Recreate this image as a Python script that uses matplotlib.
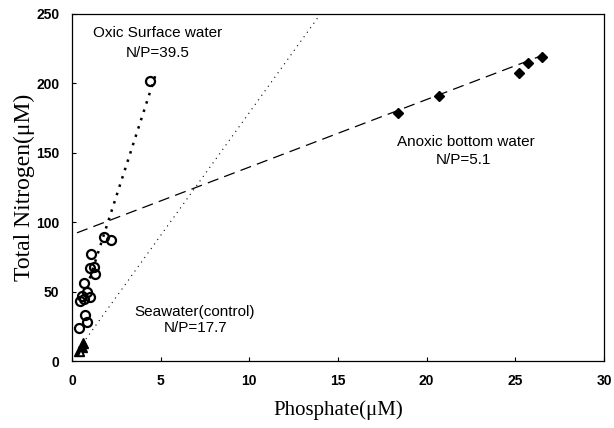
import matplotlib
matplotlib.use("Agg")
import matplotlib.pyplot as plt
import numpy as np

# Oxic surface water (open circles)
oxic_p = [0.38, 0.47, 0.56, 0.66, 0.75, 0.85, 0.85, 0.70, 1.00, 1.03, 1.09, 1.31, 1.25, 1.79, 2.22, 4.40]
oxic_n = [24, 43, 47, 56, 33, 28, 50, 45, 46, 67, 77, 63, 68, 89, 87, 202]

# Anoxic bottom water (filled diamonds)
anoxic_p = [18.4, 20.7, 25.2, 25.7, 26.5]
anoxic_n = [178.7, 190.9, 207.5, 214.7, 219.0]

# Seawater control (triangles)
sea_p_filled = [0.40, 0.55, 0.60]
sea_n_filled = [7, 10, 13]
sea_p_open = [0.50]
sea_n_open = [6]

# Regression lines: (slope, intercept, x_start, x_end)
oxic_fit = (39.5, 20.0, 1.0, 4.75)
anoxic_fit = (4.87, 91.0, 0.28, 26.5)
sea_fit = (17.7, 2.0, 0.6, 14.0)

labels_text = {
    "oxic": ("Oxic Surface water", "N/P=39.5"),
    "anoxic": ("Anoxic bottom water", "N/P=5.1"),
    "sea": ("Seawater(control)", "N/P=17.7"),
}

fig = plt.figure(figsize=(6.14, 4.28), dpi=100)
ax = fig.add_axes([0.1173, 0.1565, 0.8664, 0.8108])


def fitline(fit):
    s, b, x0, x1 = fit
    xs = np.array([x0, x1])
    return xs, s * xs + b


xs, ys = fitline(sea_fit)
ax.plot(xs, ys, color="black", lw=0.8, linestyle=(0, (1, 4)))
xs, ys = fitline(anoxic_fit)
ax.plot(xs, ys, color="black", lw=0.9, linestyle=(0, (9, 5)))
xs, ys = fitline(oxic_fit)
ax.plot(xs, ys, color="black", lw=1.8, linestyle=(0, (1, 2.5)))

ax.plot(oxic_p, oxic_n, linestyle="none", marker="o", ms=6.5, mfc="none",
        mec="black", mew=1.6)
ax.plot(anoxic_p, anoxic_n, linestyle="none", marker="D", ms=5.5,
        mfc="black", mec="black")
ax.plot(sea_p_filled, sea_n_filled, linestyle="none", marker="^", ms=7,
        mfc="black", mec="black")
ax.plot(sea_p_open, sea_n_open, linestyle="none", marker="^", ms=5,
        mfc="white", mec="black", mew=1.2)

tfont = dict(family="Liberation Sans", fontsize=11, ha="center", va="center")
ax.text(4.85, 236, labels_text["oxic"][0], **tfont)
ax.text(4.85, 222, labels_text["oxic"][1], **tfont)
ax.text(22.2, 158, labels_text["anoxic"][0], **tfont)
ax.text(22.1, 145, labels_text["anoxic"][1], **tfont)
ax.text(6.94, 35, labels_text["sea"][0], **tfont)
ax.text(6.94, 23.5, labels_text["sea"][1], **tfont)

ax.set_xlim(0, 30)
ax.set_ylim(0, 250)
ax.set_xticks([0, 5, 10, 15, 20, 25, 30])
ax.set_yticks([0, 50, 100, 150, 200, 250])
ax.tick_params(direction="in", length=3, width=0.8, pad=9)
for lab in ax.get_xticklabels() + ax.get_yticklabels():
    lab.set_fontfamily("Liberation Sans")
    lab.set_fontweight("bold")
    lab.set_fontsize(10)
for sp in ax.spines.values():
    sp.set_linewidth(0.9)

ax.set_xlabel("Phosphate(\u03bcM)", family="Liberation Serif", fontsize=15, labelpad=9)
ax.set_ylabel("Total Nitrogen(\u03bcM)", family="Liberation Serif", fontsize=17, labelpad=1)

fig.savefig("out.png", dpi=100)
